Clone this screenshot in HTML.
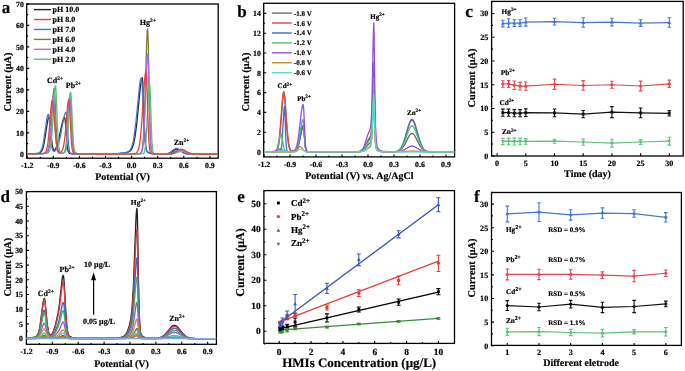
<!DOCTYPE html>
<html><head><meta charset="utf-8"><style>
html,body{margin:0;padding:0;background:#fff;}
svg{display:block;will-change:transform;}
text{font-family:"Liberation Serif",serif;font-weight:bold;fill:#000;text-rendering:geometricPrecision;font-variant-ligatures:none;font-kerning:none;stroke:#000;stroke-width:0.18px;}
</style></head><body>
<svg width="685" height="371" viewBox="0 0 685 371">
<rect width="685" height="371" fill="#fff"/>
<rect x="26.7" y="4" width="191.5" height="154.2" fill="none" stroke="#000" stroke-width="1.3"/>
<path d="M27.2 158.2v-2.5M53.3 158.2v-2.5M79.4 158.2v-2.5M105.5 158.2v-2.5M131.6 158.2v-2.5M157.7 158.2v-2.5M183.8 158.2v-2.5M209.9 158.2v-2.5M40.25 158.2v-1.4M66.35 158.2v-1.4M92.45 158.2v-1.4M118.55 158.2v-1.4M144.65 158.2v-1.4M170.75 158.2v-1.4M196.85 158.2v-1.4M26.7 154.4h2.5M26.7 132.9h2.5M26.7 111.4h2.5M26.7 89.9h2.5M26.7 68.4h2.5M26.7 46.9h2.5M26.7 25.4h2.5M26.7 3.9h2.5M26.7 143.65h1.4M26.7 122.15h1.4M26.7 100.65h1.4M26.7 79.15h1.4M26.7 57.65h1.4M26.7 36.15h1.4M26.7 14.65h1.4" stroke="#000" stroke-width="1.1" fill="none"/>
<text x="27.2" y="168.1" font-size="7.8" text-anchor="middle">-1.2</text>
<text x="53.3" y="168.1" font-size="7.8" text-anchor="middle">-0.9</text>
<text x="79.4" y="168.1" font-size="7.8" text-anchor="middle">-0.6</text>
<text x="105.5" y="168.1" font-size="7.8" text-anchor="middle">-0.3</text>
<text x="131.6" y="168.1" font-size="7.8" text-anchor="middle">0.0</text>
<text x="157.7" y="168.1" font-size="7.8" text-anchor="middle">0.3</text>
<text x="183.8" y="168.1" font-size="7.8" text-anchor="middle">0.6</text>
<text x="209.9" y="168.1" font-size="7.8" text-anchor="middle">0.9</text>
<text x="23.8" y="157.1" font-size="7.8" text-anchor="end">0</text>
<text x="23.8" y="135.6" font-size="7.8" text-anchor="end">10</text>
<text x="23.8" y="114.1" font-size="7.8" text-anchor="end">20</text>
<text x="23.8" y="92.6" font-size="7.8" text-anchor="end">30</text>
<text x="23.8" y="71.1" font-size="7.8" text-anchor="end">40</text>
<text x="23.8" y="49.6" font-size="7.8" text-anchor="end">50</text>
<text x="23.8" y="28.1" font-size="7.8" text-anchor="end">60</text>
<text x="23.8" y="6.6" font-size="7.8" text-anchor="end">70</text>
<text x="122.5" y="179.5" font-size="10" text-anchor="middle">Potential (V)</text>
<text transform="translate(10.8 82) rotate(-90)" x="0" y="0" font-size="10.3" text-anchor="middle">Current (μA)</text>
<text x="1.7" y="12.7" font-size="17" text-anchor="start">a</text>
<path d="M27.0,153.9 34.8,153.7 38.5,153.3 39.5,152.9 40.5,152.3 41.8,150.8 42.8,148.4 43.8,144.6 45.0,137.8 47.5,121.4 48.3,118.2 48.8,117.2 49.0,117.0 49.3,117.3 49.8,120.1 51.5,139.2 52.3,145.4 53.0,148.8 53.5,149.8 54.0,150.2 54.8,150.0 55.5,149.0 56.5,147.0 57.3,144.9 59.0,138.2 62.5,121.8 63.5,118.7 64.0,117.8 64.5,117.5 64.8,117.7 65.3,121.0 66.8,141.0 67.5,148.0 68.3,151.5 68.8,152.6 69.5,153.3 70.5,153.6 72.3,153.8 79.2,154.0 98.5,153.9 113.2,153.7 120.0,153.3 124.7,152.9 127.7,152.2 129.7,151.3 130.7,150.4 131.4,149.4 132.7,146.9 133.9,142.5 134.9,137.4 136.7,124.0 140.4,85.9 141.4,79.5 142.2,77.7 142.4,78.0 142.9,84.8 144.4,126.1 145.2,140.4 145.7,145.9 146.2,149.1 146.7,150.8 147.4,152.0 148.2,152.6 149.2,153.0 152.7,153.6 160.2,154.0 166.7,153.9 168.4,153.6 170.2,153.0 171.6,152.2 175.4,149.7 176.4,149.3 177.4,149.2 178.4,149.4 179.4,149.8 182.9,152.2 184.4,153.0 185.9,153.6 187.6,153.9 192.6,154.1 217.9,154.2" stroke="#222" stroke-width="1.3" fill="none" stroke-linejoin="round"/>
<path d="M27.0,153.9 34.3,153.6 37.8,153.2 38.8,152.9 39.8,152.2 41.0,150.6 42.3,147.3 43.3,143.0 46.8,119.3 47.5,115.7 48.0,114.5 48.3,114.3 48.5,114.5 49.0,117.2 51.0,140.5 52.0,147.8 52.5,149.8 53.3,151.1 53.8,151.4 54.3,151.4 55.5,150.5 56.5,149.0 57.3,147.5 58.8,143.0 60.3,136.5 64.0,117.0 65.0,113.6 65.5,112.6 66.0,112.1 66.3,112.2 66.5,113.5 66.8,116.1 68.0,137.5 68.8,146.9 69.5,151.3 70.0,152.6 70.5,153.1 71.3,153.5 72.8,153.7 78.7,153.9 96.5,153.9 111.5,153.7 118.5,153.4 123.4,152.9 126.7,152.3 128.7,151.3 129.7,150.5 130.4,149.5 131.7,147.0 132.9,142.8 133.9,137.7 135.9,122.3 139.4,86.7 140.4,80.1 141.2,78.1 141.4,78.2 141.7,79.4 142.2,86.1 143.9,124.8 144.9,140.3 145.9,148.0 146.7,150.6 147.4,151.8 148.2,152.4 149.4,152.9 152.9,153.5 160.4,153.9 165.9,153.7 167.7,153.4 169.4,152.7 170.9,151.7 174.4,149.0 175.4,148.5 176.4,148.3 177.4,148.5 178.4,149.0 181.9,151.8 183.4,152.8 185.1,153.5 186.9,153.9 192.1,154.1 217.9,154.2" stroke="#4a78d0" stroke-width="1.3" fill="none" stroke-linejoin="round"/>
<path d="M27.0,154.1 38.8,153.9 44.8,153.4 46.0,153.1 47.0,152.6 47.8,151.8 48.3,150.8 49.3,147.0 50.3,139.1 51.0,129.6 53.3,93.7 53.8,89.4 54.0,88.4 54.3,88.4 54.8,93.7 56.3,129.5 57.0,142.5 57.5,147.5 58.0,150.3 58.5,151.8 59.3,152.7 60.3,153.0 62.0,153.1 63.3,153.0 64.3,152.5 64.8,151.9 65.3,150.8 66.0,147.6 67.0,138.4 69.3,100.4 69.8,95.3 70.0,94.4 70.3,94.7 70.8,100.3 72.3,133.1 73.0,144.4 73.8,150.1 74.2,151.8 75.0,152.9 76.7,153.5 80.5,153.9 99.5,154.1 133.7,154.0 138.9,153.7 139.9,153.5 140.7,153.0 141.2,152.4 141.7,151.3 142.4,147.8 143.2,140.7 143.7,132.8 144.7,107.9 146.7,41.1 147.2,31.6 147.4,29.3 147.7,29.0 148.2,39.8 149.4,104.5 150.2,133.9 150.9,147.7 151.4,151.3 151.9,152.8 152.4,153.4 152.9,153.6 155.2,153.9 163.7,154.1 169.2,153.9 172.6,153.2 178.1,150.6 180.4,150.1 182.6,150.6 187.9,153.2 191.4,153.9 196.4,154.1 217.9,154.2" stroke="#7d7d3c" stroke-width="1.3" fill="none" stroke-linejoin="round"/>
<path d="M27.0,154.1 38.3,153.9 44.0,153.5 45.3,153.2 46.3,152.8 47.0,152.1 47.5,151.3 48.5,148.0 49.5,141.1 50.5,129.4 52.5,100.2 53.0,96.0 53.3,95.0 53.5,94.7 53.8,95.9 54.3,103.0 55.5,130.9 56.3,143.0 56.8,147.8 57.3,150.5 57.8,151.9 58.5,152.8 59.3,153.1 60.8,153.2 62.5,153.1 63.5,152.9 64.3,152.3 64.8,151.5 65.5,149.1 66.3,144.1 66.8,138.9 69.0,102.2 69.5,97.4 69.8,96.5 70.0,96.9 70.5,102.4 72.0,134.1 72.8,144.9 73.5,150.3 74.0,151.9 74.7,153.0 76.2,153.5 79.5,153.9 94.7,154.1 133.7,154.0 139.2,153.8 140.2,153.6 140.9,153.2 141.4,152.7 141.9,151.7 142.7,148.7 143.4,142.5 143.9,135.9 144.9,115.2 146.7,67.2 147.2,57.9 147.7,53.7 147.9,54.1 148.4,64.8 149.7,117.3 150.4,139.5 151.2,149.6 151.7,152.1 152.2,153.2 153.2,153.7 155.9,154.0 164.7,154.1 169.4,153.9 172.6,153.3 178.1,150.8 180.4,150.3 182.6,150.8 187.9,153.2 191.4,153.9 196.4,154.1 217.9,154.2" stroke="#a56ee8" stroke-width="1.3" fill="none" stroke-linejoin="round"/>
<path d="M27.0,154.1 39.5,153.9 45.8,153.4 47.3,153.1 48.3,152.6 49.0,151.8 49.5,150.9 50.5,147.1 51.5,139.1 52.5,125.6 54.5,92.0 55.0,87.2 55.3,86.0 55.5,85.7 55.8,87.0 56.3,95.2 57.5,127.3 58.3,141.3 58.8,146.8 59.3,149.9 59.8,151.5 60.5,152.5 61.5,152.9 62.8,153.0 64.0,152.8 64.8,152.5 65.3,152.0 65.8,151.0 66.5,147.9 67.5,138.6 69.8,98.0 70.3,92.9 70.5,92.1 70.8,92.8 71.3,98.9 72.8,131.5 73.5,143.2 74.0,147.8 74.5,150.5 75.0,151.9 75.7,152.9 77.0,153.4 79.5,153.8 90.0,154.1 134.4,154.1 141.2,153.9 143.2,153.6 143.7,153.2 144.2,152.5 144.9,150.0 145.9,141.9 146.9,125.4 148.4,92.3 148.9,84.9 149.4,82.1 149.7,83.3 150.2,92.5 151.9,141.2 152.7,149.9 153.2,152.3 153.7,153.3 154.7,153.8 156.9,154.0 171.4,154.0 174.9,153.4 180.4,151.5 182.6,151.2 184.6,151.5 190.1,153.5 193.4,154.0 217.9,154.2" stroke="#5cc07a" stroke-width="1.3" fill="none" stroke-linejoin="round"/>
<path d="M27.0,154.0 37.0,153.8 42.5,153.5 43.8,153.2 44.8,152.8 45.5,152.1 46.0,151.3 47.0,148.3 48.0,142.4 49.0,132.7 51.0,107.5 51.8,101.6 52.0,100.7 52.3,100.4 52.8,101.9 53.3,105.9 55.5,135.3 56.8,146.0 57.8,150.1 58.8,151.8 59.5,152.2 60.3,152.3 61.0,152.1 61.8,151.5 62.5,150.2 63.0,148.7 64.3,142.2 65.3,133.2 67.5,106.5 68.3,100.8 68.8,99.6 69.0,100.2 69.5,105.9 71.5,143.1 72.0,147.9 72.5,150.6 73.0,152.1 73.8,153.0 75.7,153.6 80.5,153.9 106.5,154.1 131.9,153.9 134.9,153.6 136.4,153.0 137.7,151.4 138.7,148.6 139.4,145.0 140.2,139.7 141.7,123.1 144.4,81.8 145.2,74.4 145.7,71.8 145.9,71.2 146.2,71.5 146.7,78.6 148.2,124.6 148.9,141.3 149.7,149.5 150.2,151.9 150.9,153.4 152.2,153.8 155.7,154.0 166.4,154.1 170.7,153.9 172.4,153.5 173.9,153.0 179.1,149.8 180.4,149.3 181.4,149.2 182.4,149.4 183.6,149.9 189.1,153.0 192.4,153.8 197.4,154.1 217.9,154.2" stroke="#e8413c" stroke-width="1.3" fill="none" stroke-linejoin="round"/>
<path d="M34 9.6H51" stroke="#222" stroke-width="1.4"/>
<text x="52.6" y="12.4" font-size="8" text-anchor="start">pH 10.0</text>
<path d="M34 19.53H51" stroke="#e8413c" stroke-width="1.4"/>
<text x="52.6" y="22.33" font-size="8" text-anchor="start">pH 8.0</text>
<path d="M34 29.46H51" stroke="#4a78d0" stroke-width="1.4"/>
<text x="52.6" y="32.26" font-size="8" text-anchor="start">pH 7.0</text>
<path d="M34 39.39H51" stroke="#7d7d3c" stroke-width="1.4"/>
<text x="52.6" y="42.19" font-size="8" text-anchor="start">pH 6.0</text>
<path d="M34 49.32H51" stroke="#a56ee8" stroke-width="1.4"/>
<text x="52.6" y="52.12" font-size="8" text-anchor="start">pH 4.0</text>
<path d="M34 59.25H51" stroke="#5cc07a" stroke-width="1.4"/>
<text x="52.6" y="62.05" font-size="8" text-anchor="start">pH 2.0</text>
<text x="47" y="82.6" font-size="8" text-anchor="start">Cd<tspan font-size="5.44" dy="-2.88">2+</tspan></text>
<text x="65.8" y="88.2" font-size="8" text-anchor="start">Pb<tspan font-size="5.44" dy="-2.88">2+</tspan></text>
<text x="139.7" y="24.9" font-size="8" text-anchor="start">Hg<tspan font-size="5.44" dy="-2.88">2+</tspan></text>
<text x="173.7" y="144.6" font-size="8" text-anchor="start">Zn<tspan font-size="5.44" dy="-2.88">2+</tspan></text>
<rect x="263.7" y="3.3" width="190.9" height="153.6" fill="none" stroke="#000" stroke-width="1.3"/>
<path d="M264.08 156.9v-2.5M290.06 156.9v-2.5M316.04 156.9v-2.5M342.02 156.9v-2.5M368 156.9v-2.5M393.98 156.9v-2.5M419.96 156.9v-2.5M445.94 156.9v-2.5M277.07 156.9v-1.4M303.05 156.9v-1.4M329.03 156.9v-1.4M355.01 156.9v-1.4M380.99 156.9v-1.4M406.97 156.9v-1.4M432.95 156.9v-1.4M263.7 152h2.5M263.7 132.2h2.5M263.7 112.4h2.5M263.7 92.6h2.5M263.7 72.8h2.5M263.7 53h2.5M263.7 33.2h2.5M263.7 13.4h2.5M263.7 142.1h1.4M263.7 122.3h1.4M263.7 102.5h1.4M263.7 82.7h1.4M263.7 62.9h1.4M263.7 43.1h1.4M263.7 23.3h1.4M263.7 3.5h1.4" stroke="#000" stroke-width="1.1" fill="none"/>
<text x="264.08" y="166.8" font-size="7.8" text-anchor="middle">-1.2</text>
<text x="290.06" y="166.8" font-size="7.8" text-anchor="middle">-0.9</text>
<text x="316.04" y="166.8" font-size="7.8" text-anchor="middle">-0.6</text>
<text x="342.02" y="166.8" font-size="7.8" text-anchor="middle">-0.3</text>
<text x="368" y="166.8" font-size="7.8" text-anchor="middle">0.0</text>
<text x="393.98" y="166.8" font-size="7.8" text-anchor="middle">0.3</text>
<text x="419.96" y="166.8" font-size="7.8" text-anchor="middle">0.6</text>
<text x="445.94" y="166.8" font-size="7.8" text-anchor="middle">0.9</text>
<text x="260.8" y="154.7" font-size="7.8" text-anchor="end">0</text>
<text x="260.8" y="134.9" font-size="7.8" text-anchor="end">2</text>
<text x="260.8" y="115.1" font-size="7.8" text-anchor="end">4</text>
<text x="260.8" y="95.3" font-size="7.8" text-anchor="end">6</text>
<text x="260.8" y="75.5" font-size="7.8" text-anchor="end">8</text>
<text x="260.8" y="55.7" font-size="7.8" text-anchor="end">10</text>
<text x="260.8" y="35.9" font-size="7.8" text-anchor="end">12</text>
<text x="260.8" y="16.1" font-size="7.8" text-anchor="end">14</text>
<text x="359.4" y="179.2" font-size="10" text-anchor="middle">Potential (V) vs. Ag/AgCl</text>
<text transform="translate(249.2 82) rotate(-90)" x="0" y="0" font-size="10.3" text-anchor="middle">Current (μA)</text>
<text x="237.2" y="16.7" font-size="17" text-anchor="start">b</text>
<path d="M264.0,151.9 271.5,151.7 275.0,151.3 276.0,150.9 276.8,150.3 277.8,148.5 278.8,144.5 279.8,137.1 282.8,99.4 283.5,93.9 283.8,93.2 284.0,93.1 284.5,95.1 285.0,100.0 287.0,129.8 288.3,142.9 288.8,145.9 289.5,148.8 290.3,150.2 291.5,151.0 293.3,151.2 295.0,150.9 296.3,149.9 297.3,148.3 298.3,145.6 299.0,142.7 302.0,128.4 302.8,126.5 303.3,126.2 303.8,128.7 305.0,143.6 305.5,147.8 306.3,150.7 307.0,151.5 309.0,151.8 315.3,151.9 355.3,151.9 360.3,151.6 361.5,151.3 362.8,150.7 364.5,149.2 368.0,144.7 370.3,142.6 371.0,140.9 371.5,137.8 372.0,131.8 373.3,103.7 373.8,97.8 374.0,100.5 375.0,133.3 375.5,142.8 376.3,148.1 377.0,149.7 378.0,150.7 379.5,151.3 381.8,151.6 391.0,151.9 396.3,151.7 398.0,151.4 399.5,150.8 401.5,149.3 403.5,146.7 405.0,144.1 408.3,137.4 409.8,134.9 411.0,133.7 412.0,133.4 413.3,133.9 414.8,135.8 419.3,144.7 421.3,147.9 423.0,149.8 425.0,151.1 427.3,151.7 430.3,151.9 454.3,152.0" stroke="#6b6b6b" stroke-width="1.3" fill="none" stroke-linejoin="round"/>
<path d="M264.0,151.8 271.8,151.6 274.8,151.2 275.5,150.8 276.3,150.2 277.0,148.9 277.5,147.6 278.5,143.0 279.3,137.5 280.3,126.9 282.5,98.2 283.3,92.6 283.8,91.5 284.3,92.9 285.0,99.4 287.0,127.5 288.3,140.7 288.8,144.1 289.5,147.6 290.3,149.5 291.3,150.6 292.0,151.0 293.0,151.1 295.0,150.8 296.3,149.9 297.3,148.3 298.3,145.7 299.0,142.8 302.0,128.8 302.8,127.0 303.3,126.6 303.8,129.1 305.0,143.8 305.5,147.8 306.3,150.7 307.0,151.5 309.3,151.8 316.0,151.9 354.8,151.8 359.8,151.5 361.0,151.1 362.3,150.3 363.3,149.3 364.3,147.8 367.8,140.3 370.3,136.5 371.0,133.6 371.5,128.5 372.0,118.5 373.3,72.1 373.8,62.3 374.0,66.8 375.0,121.1 375.5,136.8 376.3,145.6 377.0,148.3 378.0,149.8 379.5,150.8 381.8,151.4 385.5,151.7 391.3,151.9 394.5,151.8 396.5,151.5 398.0,150.9 399.5,149.9 400.5,148.8 401.5,147.4 403.5,143.0 405.0,138.5 408.3,127.1 409.8,122.9 411.0,120.8 411.5,120.4 412.0,120.3 412.5,120.5 413.3,121.2 414.8,124.4 419.3,139.6 421.3,145.1 423.0,148.3 424.0,149.5 425.0,150.4 427.3,151.5 430.3,151.9 454.3,152.0" stroke="#e04848" stroke-width="1.3" fill="none" stroke-linejoin="round"/>
<path d="M264.0,151.9 278.3,151.7 280.0,151.3 280.8,150.5 281.5,147.6 282.0,143.3 283.8,112.3 284.3,106.8 284.5,106.5 284.8,109.4 285.8,137.0 286.3,146.0 286.8,149.9 287.0,150.7 287.5,151.3 288.5,151.6 290.3,151.7 294.0,151.5 295.5,150.8 296.8,149.3 297.8,147.1 298.8,143.6 302.0,127.6 302.8,125.6 303.3,125.2 303.8,127.9 305.0,143.4 305.5,147.7 306.3,150.7 307.0,151.5 309.0,151.8 315.0,151.9 354.8,151.8 359.8,151.5 361.0,151.2 362.3,150.5 363.3,149.5 364.3,148.2 367.8,141.4 370.3,137.9 371.0,135.2 371.5,130.6 372.0,121.5 373.3,79.1 373.8,70.2 374.0,74.3 375.0,123.8 375.5,138.1 376.3,146.1 377.0,148.6 378.0,150.0 379.5,150.9 381.8,151.5 385.8,151.8 392.0,151.9 394.8,151.7 396.5,151.5 398.0,150.9 399.5,149.8 400.5,148.7 401.5,147.2 403.5,142.7 405.0,138.1 408.3,126.4 409.8,122.0 411.0,119.8 411.5,119.4 412.0,119.3 412.5,119.5 413.3,120.3 414.8,123.5 419.3,139.2 421.3,144.9 423.0,148.2 424.0,149.5 425.0,150.4 427.3,151.5 430.3,151.9 454.3,152.0" stroke="#3f6fc8" stroke-width="1.3" fill="none" stroke-linejoin="round"/>
<path d="M264.0,151.9 274.5,151.8 275.8,151.5 276.5,151.0 277.3,149.8 278.0,147.3 280.0,135.7 280.5,133.9 280.8,133.5 281.0,133.6 281.5,135.0 283.8,147.7 284.3,149.4 285.0,150.8 285.8,151.4 286.5,151.6 290.5,151.7 293.5,151.4 294.5,151.1 295.3,150.5 296.5,148.8 297.8,145.1 299.0,139.0 301.5,123.5 302.3,120.5 302.8,119.6 303.0,119.5 303.5,122.8 304.8,141.6 305.3,146.8 306.0,150.4 306.8,151.4 308.5,151.8 314.0,151.9 353.8,151.8 359.5,151.6 361.0,151.3 362.3,150.6 363.3,149.8 364.3,148.5 367.8,142.4 370.3,139.2 371.0,136.8 371.5,132.6 372.0,124.4 373.3,86.1 373.8,78.1 374.0,81.8 375.0,126.5 375.5,139.5 376.3,146.7 377.0,148.9 378.0,150.2 379.5,151.0 381.8,151.5 391.3,151.9 394.5,151.8 396.5,151.6 398.0,151.1 399.5,150.3 401.5,148.2 403.5,144.6 405.0,140.8 408.3,131.4 409.8,127.9 411.0,126.2 412.0,125.7 412.5,125.9 413.3,126.5 414.8,129.1 419.3,141.7 421.3,146.3 423.0,148.9 425.0,150.7 427.3,151.6 430.3,151.9 454.3,152.0" stroke="#4cc070" stroke-width="1.3" fill="none" stroke-linejoin="round"/>
<path d="M264.0,151.9 272.8,151.9 275.0,151.7 276.5,151.2 279.3,149.2 280.3,148.9 281.3,149.2 284.0,151.1 286.3,151.7 289.8,151.6 292.5,151.4 294.0,150.8 295.0,149.9 295.8,148.7 296.5,146.8 297.8,141.4 299.0,132.8 301.5,111.0 302.3,106.5 303.0,104.5 303.3,104.7 303.8,110.7 304.8,133.4 305.5,145.2 306.3,150.0 307.0,151.3 307.8,151.6 309.0,151.7 315.0,151.9 339.5,151.9 354.3,151.7 357.8,151.5 359.8,151.2 361.0,150.6 362.3,149.5 363.3,148.0 364.3,145.8 367.8,134.8 370.0,129.4 370.5,127.3 371.0,123.1 371.5,114.5 372.0,99.1 373.3,35.2 373.8,22.9 374.0,28.5 375.0,101.0 375.5,125.4 376.3,140.9 377.0,145.7 378.0,148.3 378.8,149.4 379.8,150.2 381.0,150.8 382.8,151.2 389.0,151.7 397.5,151.7 400.0,151.4 402.3,150.8 404.5,149.7 409.5,146.6 411.0,146.1 412.3,146.0 413.5,146.3 414.8,146.8 421.0,150.6 423.0,151.3 425.0,151.7 430.3,152.0 454.3,152.0" stroke="#9450e6" stroke-width="1.3" fill="none" stroke-linejoin="round"/>
<path d="M264.0,152.0 289.8,152.0 294.0,151.8 295.3,151.5 296.3,150.8 299.0,147.3 299.8,146.6 300.3,146.6 301.3,147.2 303.3,150.0 304.3,151.0 305.5,151.6 307.0,151.9 357.0,151.9 361.5,151.6 364.3,150.8 366.3,149.7 369.8,147.3 370.5,146.3 371.0,144.8 371.5,141.6 372.0,135.8 373.3,109.4 373.8,103.7 374.0,106.1 375.0,135.5 375.5,144.0 376.3,148.7 376.8,149.7 377.8,150.7 379.0,151.2 380.8,151.6 387.3,151.9 400.5,151.9 412.0,151.0 425.0,151.9 454.3,152.0" stroke="#c8902c" stroke-width="1.3" fill="none" stroke-linejoin="round"/>
<path d="M264.0,152.0 276.5,151.9 278.3,151.6 281.0,150.6 282.0,150.5 283.0,150.7 285.5,151.6 287.0,151.9 294.8,151.9 297.0,151.3 299.8,149.4 300.8,149.0 301.8,149.3 305.0,151.5 306.3,151.8 308.0,151.9 357.0,151.8 361.3,151.5 363.8,150.7 365.5,149.5 369.8,145.9 370.5,144.7 371.0,143.0 371.5,139.4 372.0,132.5 373.3,101.5 373.8,94.9 374.0,97.7 375.0,132.5 375.5,142.5 376.3,148.0 376.8,149.3 377.8,150.5 379.0,151.1 380.8,151.5 387.3,151.9 454.3,152.0" stroke="#56dccb" stroke-width="1.3" fill="none" stroke-linejoin="round"/>
<path d="M272 13.1H291.8" stroke="#6b6b6b" stroke-width="1.4"/>
<text x="293.9" y="15.6" font-size="7" text-anchor="start">-1.8 V</text>
<path d="M272 23.03H291.8" stroke="#e04848" stroke-width="1.4"/>
<text x="293.9" y="25.53" font-size="7" text-anchor="start">-1.6 V</text>
<path d="M272 32.96H291.8" stroke="#3f6fc8" stroke-width="1.4"/>
<text x="293.9" y="35.46" font-size="7" text-anchor="start">-1.4 V</text>
<path d="M272 42.89H291.8" stroke="#4cc070" stroke-width="1.4"/>
<text x="293.9" y="45.39" font-size="7" text-anchor="start">-1.2 V</text>
<path d="M272 52.82H291.8" stroke="#9450e6" stroke-width="1.4"/>
<text x="293.9" y="55.32" font-size="7" text-anchor="start">-1.0 V</text>
<path d="M272 62.75H291.8" stroke="#c8902c" stroke-width="1.4"/>
<text x="293.9" y="65.25" font-size="7" text-anchor="start">-0.8 V</text>
<path d="M272 72.68H291.8" stroke="#56dccb" stroke-width="1.4"/>
<text x="293.9" y="75.18" font-size="7" text-anchor="start">-0.6 V</text>
<text x="277.6" y="88.4" font-size="7" text-anchor="start">Cd<tspan font-size="5.2" dy="-2.9">2+</tspan></text>
<text x="297.2" y="100.8" font-size="7" text-anchor="start">Pb<tspan font-size="5.2" dy="-2.9">2+</tspan></text>
<text x="370.2" y="18.6" font-size="7" text-anchor="start">Hg<tspan font-size="5.2" dy="-2.9">2+</tspan></text>
<text x="407" y="114.5" font-size="7" text-anchor="start">Zn<tspan font-size="5.2" dy="-2.9">2+</tspan></text>
<rect x="491.6" y="1.4" width="191.6" height="154.6" fill="none" stroke="#000" stroke-width="1.3"/>
<path d="M497.1 156v-2.8M525.8 156v-2.8M554.5 156v-2.8M583.2 156v-2.8M611.9 156v-2.8M640.6 156v-2.8M669.3 156v-2.8M491.6 155.9h2.8M491.6 132.18h2.8M491.6 108.45h2.8M491.6 84.73h2.8M491.6 61h2.8M491.6 37.28h2.8M491.6 13.55h2.8M491.6 144.04h1.4M491.6 120.31h1.4M491.6 96.59h1.4M491.6 72.86h1.4M491.6 49.14h1.4M491.6 25.41h1.4M491.6 1.69h1.4" stroke="#000" stroke-width="1.1" fill="none"/>
<text x="497.1" y="165.8" font-size="8.1" text-anchor="middle">0</text>
<text x="525.8" y="165.8" font-size="8.1" text-anchor="middle">5</text>
<text x="554.5" y="165.8" font-size="8.1" text-anchor="middle">10</text>
<text x="583.2" y="165.8" font-size="8.1" text-anchor="middle">15</text>
<text x="611.9" y="165.8" font-size="8.1" text-anchor="middle">20</text>
<text x="640.6" y="165.8" font-size="8.1" text-anchor="middle">25</text>
<text x="669.3" y="165.8" font-size="8.1" text-anchor="middle">30</text>
<text x="488.3" y="158.7" font-size="8.1" text-anchor="end">0</text>
<text x="488.3" y="134.98" font-size="8.1" text-anchor="end">5</text>
<text x="488.3" y="111.25" font-size="8.1" text-anchor="end">10</text>
<text x="488.3" y="87.53" font-size="8.1" text-anchor="end">15</text>
<text x="488.3" y="63.8" font-size="8.1" text-anchor="end">20</text>
<text x="488.3" y="40.08" font-size="8.1" text-anchor="end">25</text>
<text x="488.3" y="16.35" font-size="8.1" text-anchor="end">30</text>
<text x="587.5" y="176.6" font-size="10" text-anchor="middle">Time (day)</text>
<text transform="translate(474.8 78) rotate(-90)" x="0" y="0" font-size="10.3" text-anchor="middle">Current (μA)</text>
<text x="465.3" y="16.8" font-size="17.5" text-anchor="start">c</text>
<path d="M502.84,23.51 508.58,23.04 514.32,23.04 520.06,23.04 525.80,22.09 554.50,21.62 583.20,22.57 611.90,22.09 640.60,23.04 669.30,22.57" stroke="#4a78c8" stroke-width="1.2" fill="none"/>
<path d="M502.84 20.19V26.84M501.04 20.19h3.6M501.04 26.84h3.6" stroke="#4a78c8" stroke-width="1.1" fill="none"/>
<path d="M502.84 21.44L504.82 24.86H500.86Z" fill="#4a78c8"/>
<path d="M508.58 18.77V27.31M506.78 18.77h3.6M506.78 27.31h3.6" stroke="#4a78c8" stroke-width="1.1" fill="none"/>
<path d="M508.58 20.97L510.56 24.39H506.6Z" fill="#4a78c8"/>
<path d="M514.32 19.72V26.36M512.52 19.72h3.6M512.52 26.36h3.6" stroke="#4a78c8" stroke-width="1.1" fill="none"/>
<path d="M514.32 20.97L516.3 24.39H512.34Z" fill="#4a78c8"/>
<path d="M520.06 19.72V26.36M518.26 19.72h3.6M518.26 26.36h3.6" stroke="#4a78c8" stroke-width="1.1" fill="none"/>
<path d="M520.06 20.97L522.04 24.39H518.08Z" fill="#4a78c8"/>
<path d="M525.8 18.06V26.12M524 18.06h3.6M524 26.12h3.6" stroke="#4a78c8" stroke-width="1.1" fill="none"/>
<path d="M525.8 20.02L527.78 23.44H523.82Z" fill="#4a78c8"/>
<path d="M554.5 18.3V24.94M552.7 18.3h3.6M552.7 24.94h3.6" stroke="#4a78c8" stroke-width="1.1" fill="none"/>
<path d="M554.5 19.55L556.48 22.97H552.52Z" fill="#4a78c8"/>
<path d="M583.2 17.82V27.31M581.4 17.82h3.6M581.4 27.31h3.6" stroke="#4a78c8" stroke-width="1.1" fill="none"/>
<path d="M583.2 20.5L585.18 23.92H581.22Z" fill="#4a78c8"/>
<path d="M611.9 18.3V25.89M610.1 18.3h3.6M610.1 25.89h3.6" stroke="#4a78c8" stroke-width="1.1" fill="none"/>
<path d="M611.9 20.02L613.88 23.44H609.92Z" fill="#4a78c8"/>
<path d="M640.6 19.72V26.36M638.8 19.72h3.6M638.8 26.36h3.6" stroke="#4a78c8" stroke-width="1.1" fill="none"/>
<path d="M640.6 20.97L642.58 24.39H638.62Z" fill="#4a78c8"/>
<path d="M669.3 17.82V27.31M667.5 17.82h3.6M667.5 27.31h3.6" stroke="#4a78c8" stroke-width="1.1" fill="none"/>
<path d="M669.3 20.5L671.28 23.92H667.32Z" fill="#4a78c8"/>
<path d="M502.84,84.01 508.58,84.01 514.32,85.20 520.06,86.15 525.80,86.15 554.50,84.25 583.20,85.48 611.90,84.73 640.60,86.01 669.30,83.78" stroke="#e04a4f" stroke-width="1.2" fill="none"/>
<path d="M502.84 80.79V87.24M501.04 80.79h3.6M501.04 87.24h3.6" stroke="#e04a4f" stroke-width="1.1" fill="none"/>
<circle cx="502.84" cy="84.01" r="1.6" fill="#e04a4f"/>
<path d="M508.58 80.6V87.43M506.78 80.6h3.6M506.78 87.43h3.6" stroke="#e04a4f" stroke-width="1.1" fill="none"/>
<circle cx="508.58" cy="84.01" r="1.6" fill="#e04a4f"/>
<path d="M514.32 80.93V89.47M512.52 80.93h3.6M512.52 89.47h3.6" stroke="#e04a4f" stroke-width="1.1" fill="none"/>
<circle cx="514.32" cy="85.2" r="1.6" fill="#e04a4f"/>
<path d="M520.06 82.35V89.94M518.26 82.35h3.6M518.26 89.94h3.6" stroke="#e04a4f" stroke-width="1.1" fill="none"/>
<circle cx="520.06" cy="86.15" r="1.6" fill="#e04a4f"/>
<path d="M525.8 82.07V90.23M524 82.07h3.6M524 90.23h3.6" stroke="#e04a4f" stroke-width="1.1" fill="none"/>
<circle cx="525.8" cy="86.15" r="1.6" fill="#e04a4f"/>
<path d="M554.5 79.17V89.33M552.7 79.17h3.6M552.7 89.33h3.6" stroke="#e04a4f" stroke-width="1.1" fill="none"/>
<circle cx="554.5" cy="84.25" r="1.6" fill="#e04a4f"/>
<path d="M583.2 80.64V90.32M581.4 80.64h3.6M581.4 90.32h3.6" stroke="#e04a4f" stroke-width="1.1" fill="none"/>
<circle cx="583.2" cy="85.48" r="1.6" fill="#e04a4f"/>
<path d="M611.9 81.21V88.24M610.1 81.21h3.6M610.1 88.24h3.6" stroke="#e04a4f" stroke-width="1.1" fill="none"/>
<circle cx="611.9" cy="84.73" r="1.6" fill="#e04a4f"/>
<path d="M640.6 81.17V90.85M638.8 81.17h3.6M638.8 90.85h3.6" stroke="#e04a4f" stroke-width="1.1" fill="none"/>
<circle cx="640.6" cy="86.01" r="1.6" fill="#e04a4f"/>
<path d="M669.3 80.17V87.38M667.5 80.17h3.6M667.5 87.38h3.6" stroke="#e04a4f" stroke-width="1.1" fill="none"/>
<circle cx="669.3" cy="83.78" r="1.6" fill="#e04a4f"/>
<path d="M502.84,112.72 508.58,112.72 514.32,113.20 520.06,113.20 525.80,112.72 554.50,112.91 583.20,114.10 611.90,112.10 640.60,112.91 669.30,113.29" stroke="#111" stroke-width="1.2" fill="none"/>
<path d="M502.84 109.16V116.28M501.04 109.16h3.6M501.04 116.28h3.6" stroke="#111" stroke-width="1.1" fill="none"/>
<rect x="501.4" y="111.28" width="2.89" height="2.89" fill="#111"/>
<path d="M508.58 109.16V116.28M506.78 109.16h3.6M506.78 116.28h3.6" stroke="#111" stroke-width="1.1" fill="none"/>
<rect x="507.14" y="111.28" width="2.89" height="2.89" fill="#111"/>
<path d="M514.32 109.64V116.75M512.52 109.64h3.6M512.52 116.75h3.6" stroke="#111" stroke-width="1.1" fill="none"/>
<rect x="512.88" y="111.75" width="2.89" height="2.89" fill="#111"/>
<path d="M520.06 109.64V116.75M518.26 109.64h3.6M518.26 116.75h3.6" stroke="#111" stroke-width="1.1" fill="none"/>
<rect x="518.62" y="111.75" width="2.89" height="2.89" fill="#111"/>
<path d="M525.8 108.92V116.52M524 108.92h3.6M524 116.52h3.6" stroke="#111" stroke-width="1.1" fill="none"/>
<rect x="524.36" y="111.28" width="2.89" height="2.89" fill="#111"/>
<path d="M554.5 109.02V116.8M552.7 109.02h3.6M552.7 116.8h3.6" stroke="#111" stroke-width="1.1" fill="none"/>
<rect x="553.05" y="111.47" width="2.89" height="2.89" fill="#111"/>
<path d="M583.2 110.49V117.7M581.4 110.49h3.6M581.4 117.7h3.6" stroke="#111" stroke-width="1.1" fill="none"/>
<rect x="581.75" y="112.65" width="2.89" height="2.89" fill="#111"/>
<path d="M611.9 106.6V117.61M610.1 106.6h3.6M610.1 117.61h3.6" stroke="#111" stroke-width="1.1" fill="none"/>
<rect x="610.46" y="110.66" width="2.89" height="2.89" fill="#111"/>
<path d="M640.6 108.07V117.75M638.8 108.07h3.6M638.8 117.75h3.6" stroke="#111" stroke-width="1.1" fill="none"/>
<rect x="639.15" y="111.47" width="2.89" height="2.89" fill="#111"/>
<path d="M669.3 110.59V115.99M667.5 110.59h3.6M667.5 115.99h3.6" stroke="#111" stroke-width="1.1" fill="none"/>
<rect x="667.86" y="111.84" width="2.89" height="2.89" fill="#111"/>
<path d="M502.84,141.43 508.58,141.43 514.32,141.43 520.06,141.43 525.80,141.43 554.50,141.19 583.20,142.00 611.90,143.18 640.60,142.00 669.30,141.19" stroke="#62c27a" stroke-width="1.2" fill="none"/>
<path d="M502.84 138.2V144.65M501.04 138.2h3.6M501.04 144.65h3.6" stroke="#62c27a" stroke-width="1.1" fill="none"/>
<path d="M502.84 143.5L504.82 140.08H500.86Z" fill="#62c27a"/>
<path d="M508.58 138.11V144.75M506.78 138.11h3.6M506.78 144.75h3.6" stroke="#62c27a" stroke-width="1.1" fill="none"/>
<path d="M508.58 143.5L510.56 140.08H506.6Z" fill="#62c27a"/>
<path d="M514.32 137.87V144.99M512.52 137.87h3.6M512.52 144.99h3.6" stroke="#62c27a" stroke-width="1.1" fill="none"/>
<path d="M514.32 143.5L516.3 140.08H512.34Z" fill="#62c27a"/>
<path d="M520.06 138.11V144.75M518.26 138.11h3.6M518.26 144.75h3.6" stroke="#62c27a" stroke-width="1.1" fill="none"/>
<path d="M520.06 143.5L522.04 140.08H518.08Z" fill="#62c27a"/>
<path d="M525.8 138.58V144.27M524 138.58h3.6M524 144.27h3.6" stroke="#62c27a" stroke-width="1.1" fill="none"/>
<path d="M525.8 143.5L527.78 140.08H523.82Z" fill="#62c27a"/>
<path d="M554.5 139.2V143.18M552.7 139.2h3.6M552.7 143.18h3.6" stroke="#62c27a" stroke-width="1.1" fill="none"/>
<path d="M554.5 143.26L556.48 139.84H552.52Z" fill="#62c27a"/>
<path d="M583.2 138.68V145.32M581.4 138.68h3.6M581.4 145.32h3.6" stroke="#62c27a" stroke-width="1.1" fill="none"/>
<path d="M583.2 144.07L585.18 140.65H581.22Z" fill="#62c27a"/>
<path d="M611.9 139.2V147.17M610.1 139.2h3.6M610.1 147.17h3.6" stroke="#62c27a" stroke-width="1.1" fill="none"/>
<path d="M611.9 145.25L613.88 141.83H609.92Z" fill="#62c27a"/>
<path d="M640.6 139.62V144.37M638.8 139.62h3.6M638.8 144.37h3.6" stroke="#62c27a" stroke-width="1.1" fill="none"/>
<path d="M640.6 144.07L642.58 140.65H638.62Z" fill="#62c27a"/>
<path d="M669.3 137.3V145.08M667.5 137.3h3.6M667.5 145.08h3.6" stroke="#62c27a" stroke-width="1.1" fill="none"/>
<path d="M669.3 143.26L671.28 139.84H667.32Z" fill="#62c27a"/>
<text x="501.6" y="13.6" font-size="7.3" text-anchor="start">Hg<tspan font-size="5.3" dy="-2.4">2+</tspan></text>
<text x="500.8" y="74.8" font-size="7.3" text-anchor="start">Pb<tspan font-size="5.3" dy="-2.4">2+</tspan></text>
<text x="499.4" y="104.5" font-size="7.3" text-anchor="start">Cd<tspan font-size="5.3" dy="-2.4">2+</tspan></text>
<text x="502" y="134.1" font-size="7.3" text-anchor="start">Zn<tspan font-size="5.3" dy="-2.4">2+</tspan></text>
<rect x="26.4" y="191.6" width="190" height="152.7" fill="none" stroke="#000" stroke-width="1.3"/>
<path d="M26.44 344.3v-2.5M52.33 344.3v-2.5M78.22 344.3v-2.5M104.11 344.3v-2.5M130 344.3v-2.5M155.89 344.3v-2.5M181.78 344.3v-2.5M207.67 344.3v-2.5M39.39 344.3v-1.4M65.28 344.3v-1.4M91.16 344.3v-1.4M117.06 344.3v-1.4M142.94 344.3v-1.4M168.84 344.3v-1.4M194.72 344.3v-1.4M26.4 338.6h2.5M26.4 323.9h2.5M26.4 309.2h2.5M26.4 294.5h2.5M26.4 279.8h2.5M26.4 265.1h2.5M26.4 250.4h2.5M26.4 235.7h2.5M26.4 221h2.5M26.4 206.3h2.5M26.4 191.6h2.5M26.4 331.25h1.4M26.4 316.55h1.4M26.4 301.85h1.4M26.4 287.15h1.4M26.4 272.45h1.4M26.4 257.75h1.4M26.4 243.05h1.4M26.4 228.35h1.4M26.4 213.65h1.4M26.4 198.95h1.4" stroke="#000" stroke-width="1.1" fill="none"/>
<text x="26.44" y="354.3" font-size="7.8" text-anchor="middle">-1.2</text>
<text x="52.33" y="354.3" font-size="7.8" text-anchor="middle">-0.9</text>
<text x="78.22" y="354.3" font-size="7.8" text-anchor="middle">-0.6</text>
<text x="104.11" y="354.3" font-size="7.8" text-anchor="middle">-0.3</text>
<text x="130" y="354.3" font-size="7.8" text-anchor="middle">0.0</text>
<text x="155.89" y="354.3" font-size="7.8" text-anchor="middle">0.3</text>
<text x="181.78" y="354.3" font-size="7.8" text-anchor="middle">0.6</text>
<text x="207.67" y="354.3" font-size="7.8" text-anchor="middle">0.9</text>
<text x="23" y="341.3" font-size="7.8" text-anchor="end">0</text>
<text x="23" y="326.6" font-size="7.8" text-anchor="end">5</text>
<text x="23" y="311.9" font-size="7.8" text-anchor="end">10</text>
<text x="23" y="297.2" font-size="7.8" text-anchor="end">15</text>
<text x="23" y="282.5" font-size="7.8" text-anchor="end">20</text>
<text x="23" y="267.8" font-size="7.8" text-anchor="end">25</text>
<text x="23" y="253.1" font-size="7.8" text-anchor="end">30</text>
<text x="23" y="238.4" font-size="7.8" text-anchor="end">35</text>
<text x="23" y="223.7" font-size="7.8" text-anchor="end">40</text>
<text x="23" y="209" font-size="7.8" text-anchor="end">45</text>
<text x="23" y="194.3" font-size="7.8" text-anchor="end">50</text>
<text x="121.5" y="367.1" font-size="10" text-anchor="middle">Potential (V)</text>
<text transform="translate(10.6 267.2) rotate(-90)" x="0" y="0" font-size="10.3" text-anchor="middle">Current (μA)</text>
<text x="0.5" y="202" font-size="17" text-anchor="start">d</text>
<path d="M26.7,338.1 32.0,337.7 35.0,337.1 36.7,336.0 38.0,334.1 39.0,331.1 40.0,326.3 43.0,303.4 43.7,299.5 44.2,298.5 44.5,298.7 45.0,301.0 47.2,324.0 48.5,331.9 49.2,334.0 49.7,334.7 50.2,335.0 51.2,334.7 52.5,333.1 53.7,330.3 55.2,325.6 56.7,319.5 58.0,313.4 59.5,303.4 62.2,278.8 62.7,276.2 63.0,275.5 63.2,275.4 63.7,277.3 64.2,283.1 65.7,310.8 66.7,324.7 67.2,329.1 68.0,333.1 68.7,335.2 69.5,336.2 70.5,337.0 71.9,337.5 77.2,338.1 89.7,338.3 107.7,338.2 115.9,337.9 120.7,337.5 123.1,336.7 124.1,336.1 125.1,335.1 126.4,333.3 127.4,331.3 129.4,325.5 130.9,318.4 131.9,309.9 132.6,299.9 133.4,285.9 135.9,220.5 136.4,211.8 136.9,208.4 137.1,209.8 137.4,216.9 138.6,288.3 139.4,317.2 140.1,329.6 140.6,332.8 141.4,335.0 142.1,336.0 143.4,336.9 144.9,337.5 146.9,337.9 150.6,338.2 154.9,338.3 157.6,338.1 159.9,337.7 161.9,336.9 163.9,335.6 166.1,333.3 171.3,326.9 173.1,325.6 174.6,325.3 176.1,325.8 177.6,327.0 182.8,333.4 184.8,335.5 186.8,336.9 188.8,337.8 191.3,338.3 194.6,338.5 216.1,338.6" stroke="#222" stroke-width="1.35" fill="none" stroke-linejoin="round"/>
<path d="M26.7,338.1 32.0,337.7 35.0,337.1 36.7,336.1 38.0,334.3 39.0,331.4 40.0,326.7 43.0,304.5 43.7,300.7 44.2,299.8 44.5,299.9 45.0,302.1 47.2,324.5 48.5,332.1 49.2,334.2 49.7,334.9 50.2,335.2 51.2,335.0 52.5,333.6 53.7,331.2 55.2,326.9 56.7,321.5 58.0,316.0 59.5,307.1 62.2,285.1 62.7,282.7 63.0,282.2 63.2,282.1 63.7,283.7 64.2,289.0 65.7,313.7 66.7,326.2 67.2,330.1 68.0,333.7 68.7,335.5 69.5,336.5 70.5,337.1 71.9,337.6 76.9,338.1 88.7,338.4 106.7,338.3 115.7,338.0 120.7,337.6 123.1,337.0 125.1,335.7 126.4,334.1 127.4,332.5 129.4,327.6 130.9,321.7 131.9,314.6 132.6,306.2 133.4,294.4 135.9,239.6 136.4,232.3 136.9,229.4 137.1,230.6 137.4,236.5 138.6,296.4 139.4,320.7 140.1,331.0 140.6,333.8 141.4,335.5 142.1,336.4 143.4,337.2 144.9,337.6 147.1,338.0 155.1,338.3 157.9,338.2 160.1,337.7 162.4,336.8 164.6,335.2 166.6,333.2 170.4,328.8 171.8,327.4 173.3,326.5 174.6,326.4 176.1,326.8 177.6,327.9 182.8,333.9 184.8,335.7 186.8,337.0 188.8,337.8 191.3,338.3 194.6,338.5 216.1,338.6" stroke="#e03a3a" stroke-width="1.35" fill="none" stroke-linejoin="round"/>
<path d="M26.7,338.3 32.0,338.0 35.0,337.5 36.7,336.8 38.0,335.4 39.0,333.3 40.0,329.9 43.0,313.6 43.7,310.9 44.2,310.2 44.5,310.3 45.0,311.9 47.2,328.3 48.5,333.9 49.2,335.5 50.2,336.3 51.2,336.2 52.5,335.3 53.7,333.8 55.0,331.6 57.7,325.0 59.5,318.6 62.2,304.5 62.7,303.1 63.2,302.6 63.7,303.7 64.2,307.0 65.7,322.8 66.7,330.7 67.2,333.2 68.0,335.5 68.7,336.6 69.5,337.2 70.5,337.7 71.9,338.0 77.4,338.3 108.9,338.3 120.9,337.9 123.4,337.3 125.1,336.4 126.4,335.3 127.4,334.1 129.4,330.5 130.9,326.1 131.9,320.8 132.6,314.6 133.4,305.9 135.9,265.4 136.4,260.0 136.9,257.9 137.1,258.8 137.4,263.2 138.6,307.5 139.4,325.4 140.1,333.0 140.6,335.0 141.4,336.3 142.1,337.0 143.4,337.5 147.1,338.2 155.4,338.4 158.1,338.2 160.1,337.9 162.4,337.1 164.6,335.8 166.6,334.1 170.4,330.3 171.8,329.2 173.3,328.4 174.6,328.3 176.1,328.6 177.6,329.6 182.8,334.6 184.8,336.2 186.8,337.3 188.8,338.0 191.3,338.4 194.6,338.5 216.1,338.6" stroke="#3a66cc" stroke-width="1.35" fill="none" stroke-linejoin="round"/>
<path d="M26.7,338.3 32.0,338.0 35.0,337.6 36.7,337.0 38.0,335.7 39.0,333.8 40.0,330.7 43.0,315.8 43.7,313.2 44.2,312.6 44.5,312.7 45.0,314.2 47.2,329.2 48.5,334.4 49.2,335.8 50.0,336.5 51.2,336.6 52.5,336.0 53.7,334.8 55.0,333.1 57.7,328.0 59.5,323.1 62.2,312.2 62.7,311.1 63.2,310.7 63.7,311.6 64.2,314.1 65.7,326.3 66.7,332.5 67.2,334.4 68.0,336.2 68.7,337.1 69.5,337.5 71.9,338.1 77.4,338.4 108.4,338.4 120.9,338.0 123.4,337.6 125.1,336.9 127.4,335.1 129.4,332.4 130.9,329.1 131.9,325.1 132.6,320.4 133.4,313.7 135.9,282.9 136.4,278.8 136.9,277.2 137.1,277.9 137.4,281.2 138.6,314.9 139.4,328.5 140.1,334.3 140.6,335.9 141.4,336.9 142.1,337.4 143.4,337.8 147.4,338.3 155.4,338.4 160.1,338.0 162.4,337.4 164.6,336.3 171.8,331.1 173.3,330.5 174.6,330.3 176.1,330.6 177.6,331.4 182.8,335.4 184.8,336.7 186.8,337.5 188.8,338.1 191.3,338.4 194.6,338.6 216.1,338.6" stroke="#3cb060" stroke-width="1.35" fill="none" stroke-linejoin="round"/>
<path d="M26.7,338.4 35.0,338.0 36.7,337.6 38.0,336.9 39.0,335.8 40.0,333.9 43.0,325.1 43.7,323.6 44.2,323.2 44.5,323.3 45.0,324.2 47.2,333.1 48.5,336.1 49.2,337.0 50.0,337.4 51.2,337.4 52.5,337.1 53.7,336.4 55.0,335.4 57.7,332.3 59.5,329.4 62.2,322.9 62.7,322.2 63.2,322.1 63.7,322.5 64.2,324.1 65.7,331.3 66.7,335.0 67.2,336.1 68.0,337.1 69.5,338.0 71.9,338.3 77.4,338.5 108.4,338.5 120.9,338.3 123.4,338.0 125.1,337.6 127.4,336.6 129.4,335.0 130.9,333.0 131.9,330.6 132.6,327.8 133.4,323.9 135.9,305.7 136.4,303.3 136.9,302.3 137.1,302.7 137.4,304.7 138.6,324.6 139.4,332.6 140.1,336.1 140.6,337.0 141.4,337.6 143.6,338.2 147.9,338.4 155.9,338.5 160.4,338.1 162.6,337.6 164.9,336.8 171.8,332.9 173.3,332.5 174.6,332.4 176.1,332.6 177.6,333.2 182.8,336.2 184.8,337.2 186.8,337.8 188.8,338.2 194.6,338.6 216.1,338.6" stroke="#9a5ae0" stroke-width="1.35" fill="none" stroke-linejoin="round"/>
<path d="M26.7,338.5 35.0,338.2 36.7,338.0 38.0,337.5 39.0,336.8 40.0,335.6 43.0,330.0 43.7,329.1 44.2,328.8 44.7,329.1 45.2,329.9 47.0,334.5 48.0,336.4 49.0,337.5 50.2,337.9 51.7,337.9 53.5,337.5 57.0,335.8 59.2,334.0 62.2,330.3 63.2,329.9 63.7,330.1 64.2,330.9 65.7,334.8 66.7,336.7 68.0,337.8 69.5,338.3 77.4,338.5 108.7,338.5 120.9,338.4 125.1,338.1 127.4,337.5 129.4,336.6 130.9,335.6 131.9,334.3 133.4,330.7 135.9,320.8 136.4,319.5 136.9,319.0 137.1,319.2 137.4,320.3 138.6,331.0 139.4,335.4 140.1,337.2 140.6,337.7 141.4,338.1 143.6,338.4 147.9,338.5 155.9,338.5 160.4,338.4 164.9,337.6 171.8,335.6 174.6,335.4 177.6,335.8 184.8,337.8 188.8,338.4 194.6,338.6 216.1,338.6" stroke="#d09a20" stroke-width="1.35" fill="none" stroke-linejoin="round"/>
<path d="M26.7,338.6 35.0,338.5 38.0,338.2 40.0,337.6 43.0,335.7 44.2,335.3 45.2,335.7 48.0,337.9 50.2,338.4 53.5,338.2 57.0,337.7 59.2,337.1 62.2,335.8 63.2,335.7 64.2,336.0 66.0,337.5 67.0,338.1 69.7,338.5 112.7,338.6 125.1,338.3 129.4,337.6 130.9,337.1 131.9,336.4 133.4,334.6 135.9,329.7 136.4,329.1 136.9,328.8 137.1,328.9 137.4,329.4 138.6,334.8 139.4,337.0 140.1,337.9 141.4,338.3 148.6,338.6 160.4,338.4 164.9,338.0 171.8,336.7 174.6,336.5 177.6,336.8 184.8,338.1 188.8,338.5 216.1,338.6" stroke="#6b2f3f" stroke-width="1.35" fill="none" stroke-linejoin="round"/>
<path d="M26.7,338.5 35.0,338.4 38.0,338.0 40.0,336.9 43.0,333.7 44.2,333.0 44.7,333.1 45.2,333.6 47.0,336.3 48.0,337.4 49.0,337.9 50.2,338.2 53.5,337.9 57.0,336.8 59.2,335.7 62.2,333.4 63.2,333.1 63.7,333.2 64.2,333.8 65.7,336.2 66.7,337.4 68.0,338.1 69.5,338.4 100.4,338.6 125.1,338.4 129.4,337.7 130.9,337.3 131.9,336.7 133.4,335.1 135.9,330.8 136.4,330.2 136.9,330.0 137.1,330.1 137.4,330.5 138.6,335.3 139.4,337.2 140.1,338.0 141.4,338.4 150.9,338.6 160.6,338.4 164.9,337.9 171.8,336.4 174.6,336.2 177.6,336.5 184.8,338.1 188.8,338.5 216.1,338.6" stroke="#50d0c8" stroke-width="1.35" fill="none" stroke-linejoin="round"/>
<path d="M26.7,338.6 38.0,338.3 40.0,337.9 43.0,336.5 44.2,336.2 45.2,336.5 48.0,338.1 50.5,338.5 57.0,338.1 63.2,337.1 64.2,337.3 67.0,338.3 69.7,338.5 125.1,338.5 129.4,338.1 131.9,337.5 133.4,336.6 135.9,334.2 136.9,333.7 137.4,334.0 138.6,336.7 139.4,337.8 140.1,338.3 141.4,338.5 160.4,338.5 174.6,337.7 188.8,338.5 216.1,338.6" stroke="#9a9a30" stroke-width="1.35" fill="none" stroke-linejoin="round"/>
<path d="M26.7,338.6 38.0,338.5 44.2,337.7 48.5,338.4 52.2,338.4 57.7,337.7 62.2,336.3 63.2,336.1 64.2,336.4 66.7,338.1 68.0,338.4 69.5,338.5 125.1,338.5 129.4,338.3 131.9,338.0 133.4,337.4 135.9,336.0 136.9,335.7 137.4,335.9 138.6,337.5 139.4,338.1 140.1,338.4 141.4,338.5 160.4,338.6 174.6,338.0 188.8,338.6 216.1,338.6" stroke="#e06020" stroke-width="1.35" fill="none" stroke-linejoin="round"/>
<path d="M26.7,338.6 216.1,338.6" stroke="#80aee0" stroke-width="1.35" fill="none" stroke-linejoin="round"/>
<text x="37.7" y="295.6" font-size="8" text-anchor="start">Cd<tspan font-size="5.44" dy="-2.88">2+</tspan></text>
<text x="59.5" y="271.8" font-size="8" text-anchor="start">Pb<tspan font-size="5.44" dy="-2.88">2+</tspan></text>
<text x="130.8" y="204.5" font-size="7.5" text-anchor="start">Hg<tspan font-size="5.1" dy="-2.7">2+</tspan></text>
<text x="169.2" y="320.9" font-size="8" text-anchor="start">Zn<tspan font-size="5.44" dy="-2.88">2+</tspan></text>
<text x="84.1" y="266.7" font-size="8" text-anchor="start">10 μg/L</text>
<text x="83.1" y="323.8" font-size="8" text-anchor="start">0.05 μg/L</text>
<path d="M93.6 314.7V278" stroke="#000" stroke-width="1.2"/><path d="M93.6 272.2L96.1 280.2H91.1Z" fill="#000"/>
<rect x="263.9" y="190.6" width="190.6" height="152.8" fill="none" stroke="#000" stroke-width="1.3"/>
<path d="M279.2 343.4v-2.5M311.04 343.4v-2.5M342.88 343.4v-2.5M374.72 343.4v-2.5M406.56 343.4v-2.5M438.4 343.4v-2.5M295.12 343.4v-1.4M326.96 343.4v-1.4M358.8 343.4v-1.4M390.64 343.4v-1.4M422.48 343.4v-1.4M263.9 331.2h2.5M263.9 305.7h2.5M263.9 280.2h2.5M263.9 254.7h2.5M263.9 229.2h2.5M263.9 203.7h2.5M263.9 343.95h1.4M263.9 318.45h1.4M263.9 292.95h1.4M263.9 267.45h1.4M263.9 241.95h1.4M263.9 216.45h1.4M263.9 190.95h1.4" stroke="#000" stroke-width="1.1" fill="none"/>
<text x="279.2" y="354.6" font-size="9.4" text-anchor="middle">0</text>
<text x="311.04" y="354.6" font-size="9.4" text-anchor="middle">2</text>
<text x="342.88" y="354.6" font-size="9.4" text-anchor="middle">4</text>
<text x="374.72" y="354.6" font-size="9.4" text-anchor="middle">6</text>
<text x="406.56" y="354.6" font-size="9.4" text-anchor="middle">8</text>
<text x="438.4" y="354.6" font-size="9.4" text-anchor="middle">10</text>
<text x="260.6" y="334.4" font-size="9.4" text-anchor="end">0</text>
<text x="260.6" y="308.9" font-size="9.4" text-anchor="end">10</text>
<text x="260.6" y="283.4" font-size="9.4" text-anchor="end">20</text>
<text x="260.6" y="257.9" font-size="9.4" text-anchor="end">30</text>
<text x="260.6" y="232.4" font-size="9.4" text-anchor="end">40</text>
<text x="260.6" y="206.9" font-size="9.4" text-anchor="end">50</text>
<text x="359.2" y="367" font-size="13" text-anchor="middle">HMIs Concentration (μg/L)</text>
<text transform="translate(244.2 262.5) rotate(-90)" x="0" y="0" font-size="12" text-anchor="middle">Current (μA)</text>
<text x="237.2" y="202.2" font-size="17" text-anchor="start">e</text>
<path d="M279.2 330.18L438.4 318.45" stroke="#3a8a3a" stroke-width="1.35"/>
<path d="M280 330.94V332.99M278 330.94h4M278 332.99h4" stroke="#3a8a3a" stroke-width="1.1" fill="none"/>
<path d="M280 333.92L281.87 330.69H278.13Z" fill="#3a8a3a"/>
<path d="M282.38 330.69V332.73M280.38 330.69h4M280.38 332.73h4" stroke="#3a8a3a" stroke-width="1.1" fill="none"/>
<path d="M282.38 333.66L284.25 330.44H280.51Z" fill="#3a8a3a"/>
<path d="M287.16 329.67V331.71M285.16 329.67h4M285.16 331.71h4" stroke="#3a8a3a" stroke-width="1.1" fill="none"/>
<path d="M287.16 332.64L289.03 329.42H285.29Z" fill="#3a8a3a"/>
<path d="M295.12 327.63V329.67M293.12 327.63h4M293.12 329.67h4" stroke="#3a8a3a" stroke-width="1.1" fill="none"/>
<path d="M295.12 330.6L296.99 327.38H293.25Z" fill="#3a8a3a"/>
<path d="M326.96 326.35V327.88M324.96 326.35h4M324.96 327.88h4" stroke="#3a8a3a" stroke-width="1.1" fill="none"/>
<path d="M326.96 329.07L328.83 325.85H325.09Z" fill="#3a8a3a"/>
<path d="M358.8 323.3V324.82M356.8 323.3h4M356.8 324.82h4" stroke="#3a8a3a" stroke-width="1.1" fill="none"/>
<path d="M358.8 326.01L360.67 322.79H356.93Z" fill="#3a8a3a"/>
<path d="M398.6 320.75V322.27M396.6 320.75h4M396.6 322.27h4" stroke="#3a8a3a" stroke-width="1.1" fill="none"/>
<path d="M398.6 323.46L400.47 320.24H396.73Z" fill="#3a8a3a"/>
<path d="M438.4 317.69V319.21M436.4 317.69h4M436.4 319.21h4" stroke="#3a8a3a" stroke-width="1.1" fill="none"/>
<path d="M438.4 320.4L440.27 317.18H436.53Z" fill="#3a8a3a"/>
<path d="M279.2 328.9L438.4 292.19" stroke="#000" stroke-width="1.35"/>
<path d="M280 327.63V330.18M278 327.63h4M278 330.18h4" stroke="#000" stroke-width="1.1" fill="none"/>
<rect x="278.55" y="327.46" width="2.89" height="2.89" fill="#000"/>
<path d="M282.38 326.35V329.41M280.38 326.35h4M280.38 329.41h4" stroke="#000" stroke-width="1.1" fill="none"/>
<rect x="280.94" y="326.44" width="2.89" height="2.89" fill="#000"/>
<path d="M287.16 324.31V327.88M285.16 324.31h4M285.16 327.88h4" stroke="#000" stroke-width="1.1" fill="none"/>
<rect x="285.71" y="324.65" width="2.89" height="2.89" fill="#000"/>
<path d="M295.12 317.94V326.1M293.12 317.94h4M293.12 326.1h4" stroke="#000" stroke-width="1.1" fill="none"/>
<rect x="293.68" y="320.57" width="2.89" height="2.89" fill="#000"/>
<path d="M326.96 313.86V322.02M324.96 313.86h4M324.96 322.02h4" stroke="#000" stroke-width="1.1" fill="none"/>
<rect x="325.51" y="316.5" width="2.89" height="2.89" fill="#000"/>
<path d="M358.8 306.97V312.07M356.8 306.97h4M356.8 312.07h4" stroke="#000" stroke-width="1.1" fill="none"/>
<rect x="357.35" y="308.08" width="2.89" height="2.89" fill="#000"/>
<path d="M398.6 299.07V305.19M396.6 299.07h4M396.6 305.19h4" stroke="#000" stroke-width="1.1" fill="none"/>
<rect x="397.16" y="300.69" width="2.89" height="2.89" fill="#000"/>
<path d="M438.4 288.62V294.74M436.4 288.62h4M436.4 294.74h4" stroke="#000" stroke-width="1.1" fill="none"/>
<rect x="436.95" y="290.23" width="2.89" height="2.89" fill="#000"/>
<path d="M279.2 322.02L438.4 261.07" stroke="#e8403a" stroke-width="1.35"/>
<path d="M280 321.25V323.81M278 321.25h4M278 323.81h4" stroke="#e8403a" stroke-width="1.1" fill="none"/>
<circle cx="280" cy="322.53" r="1.7" fill="#e8403a"/>
<path d="M282.38 320.24V322.78M280.38 320.24h4M280.38 322.78h4" stroke="#e8403a" stroke-width="1.1" fill="none"/>
<circle cx="282.38" cy="321.51" r="1.7" fill="#e8403a"/>
<path d="M287.16 314.88V318.96M285.16 314.88h4M285.16 318.96h4" stroke="#e8403a" stroke-width="1.1" fill="none"/>
<circle cx="287.16" cy="316.92" r="1.7" fill="#e8403a"/>
<path d="M295.12 313.35V316.92M293.12 313.35h4M293.12 316.92h4" stroke="#e8403a" stroke-width="1.1" fill="none"/>
<circle cx="295.12" cy="315.13" r="1.7" fill="#e8403a"/>
<path d="M326.96 304.94V310.03M324.96 304.94h4M324.96 310.03h4" stroke="#e8403a" stroke-width="1.1" fill="none"/>
<circle cx="326.96" cy="307.49" r="1.7" fill="#e8403a"/>
<path d="M358.8 289.89V296.52M356.8 289.89h4M356.8 296.52h4" stroke="#e8403a" stroke-width="1.1" fill="none"/>
<circle cx="358.8" cy="293.2" r="1.7" fill="#e8403a"/>
<path d="M398.6 276.12V284.79M396.6 276.12h4M396.6 284.79h4" stroke="#e8403a" stroke-width="1.1" fill="none"/>
<circle cx="398.6" cy="280.45" r="1.7" fill="#e8403a"/>
<path d="M438.4 255.21V271.53M436.4 255.21h4M436.4 271.53h4" stroke="#e8403a" stroke-width="1.1" fill="none"/>
<circle cx="438.4" cy="263.37" r="1.7" fill="#e8403a"/>
<path d="M279.2 323.04L438.4 204.72" stroke="#3a56c0" stroke-width="1.35"/>
<path d="M280 322.78V326.87M278 322.78h4M278 326.87h4" stroke="#3a56c0" stroke-width="1.1" fill="none"/>
<path d="M280 322.87L281.87 326.1H278.13Z" fill="#3a56c0"/>
<path d="M282.38 317.94V325.08M280.38 317.94h4M280.38 325.08h4" stroke="#3a56c0" stroke-width="1.1" fill="none"/>
<path d="M282.38 319.56L284.25 322.78H280.51Z" fill="#3a56c0"/>
<path d="M287.16 311.06V319.72M285.16 311.06h4M285.16 319.72h4" stroke="#3a56c0" stroke-width="1.1" fill="none"/>
<path d="M287.16 313.44L289.03 316.66H285.29Z" fill="#3a56c0"/>
<path d="M295.12 294.48V313.35M293.12 294.48h4M293.12 313.35h4" stroke="#3a56c0" stroke-width="1.1" fill="none"/>
<path d="M295.12 301.96L296.99 305.19H293.25Z" fill="#3a56c0"/>
<path d="M326.96 283.26V293.46M324.96 283.26h4M324.96 293.46h4" stroke="#3a56c0" stroke-width="1.1" fill="none"/>
<path d="M326.96 286.41L328.83 289.63H325.09Z" fill="#3a56c0"/>
<path d="M358.8 253.94V265.66M356.8 253.94h4M356.8 265.66h4" stroke="#3a56c0" stroke-width="1.1" fill="none"/>
<path d="M358.8 257.85L360.67 261.07H356.93Z" fill="#3a56c0"/>
<path d="M398.6 230.73V237.87M396.6 230.73h4M396.6 237.87h4" stroke="#3a56c0" stroke-width="1.1" fill="none"/>
<path d="M398.6 232.34L400.47 235.58H396.73Z" fill="#3a56c0"/>
<path d="M438.4 197.71V211.73M436.4 197.71h4M436.4 211.73h4" stroke="#3a56c0" stroke-width="1.1" fill="none"/>
<path d="M438.4 202.76L440.27 206H436.53Z" fill="#3a56c0"/>
<rect x="276.95" y="201.56" width="2.89" height="2.89" fill="#000"/>
<text x="291" y="206.2" font-size="9" text-anchor="start">Cd<tspan font-size="7.0" dy="-3.7">2+</tspan></text>
<circle cx="278.4" cy="216.6" r="1.7" fill="#e8403a"/>
<text x="291" y="219.5" font-size="9" text-anchor="start">Pb<tspan font-size="7.0" dy="-3.7">2+</tspan></text>
<path d="M278.4 228.44L280.27 231.68H276.53Z" fill="#3a56c0"/>
<text x="291" y="232.6" font-size="9" text-anchor="start">Hg<tspan font-size="7.0" dy="-3.7">2+</tspan></text>
<path d="M278.4 246.06L280.27 242.82H276.53Z" fill="#3a8a3a"/>
<text x="291" y="246.2" font-size="9" text-anchor="start">Zn<tspan font-size="7.0" dy="-3.7">2+</tspan></text>
<rect x="491.5" y="192.5" width="189.9" height="152.9" fill="none" stroke="#000" stroke-width="1.3"/>
<path d="M507.3 345.4v-2.5M539 345.4v-2.5M570.7 345.4v-2.5M602.4 345.4v-2.5M634.1 345.4v-2.5M665.8 345.4v-2.5M491.5 345.7h2.5M491.5 322.1h2.5M491.5 298.5h2.5M491.5 274.9h2.5M491.5 251.3h2.5M491.5 227.7h2.5M491.5 204.1h2.5M491.5 333.9h1.4M491.5 310.3h1.4M491.5 286.7h1.4M491.5 263.1h1.4M491.5 239.5h1.4M491.5 215.9h1.4M491.5 192.3h1.4" stroke="#000" stroke-width="1.1" fill="none"/>
<text x="507.3" y="354.8" font-size="8.1" text-anchor="middle">1</text>
<text x="539" y="354.8" font-size="8.1" text-anchor="middle">2</text>
<text x="570.7" y="354.8" font-size="8.1" text-anchor="middle">3</text>
<text x="602.4" y="354.8" font-size="8.1" text-anchor="middle">4</text>
<text x="634.1" y="354.8" font-size="8.1" text-anchor="middle">5</text>
<text x="665.8" y="354.8" font-size="8.1" text-anchor="middle">6</text>
<text x="488.2" y="348.5" font-size="8.1" text-anchor="end">0</text>
<text x="488.2" y="324.9" font-size="8.1" text-anchor="end">5</text>
<text x="488.2" y="301.3" font-size="8.1" text-anchor="end">10</text>
<text x="488.2" y="277.7" font-size="8.1" text-anchor="end">15</text>
<text x="488.2" y="254.1" font-size="8.1" text-anchor="end">20</text>
<text x="488.2" y="230.5" font-size="8.1" text-anchor="end">25</text>
<text x="488.2" y="206.9" font-size="8.1" text-anchor="end">30</text>
<text x="581.1" y="366.2" font-size="10" text-anchor="middle">Different eletrode</text>
<text transform="translate(474.8 268) rotate(-90)" x="0" y="0" font-size="10.3" text-anchor="middle">Current (μA)</text>
<text x="474" y="202" font-size="17" text-anchor="start">f</text>
<path d="M507.30,214.01 539.00,212.12 570.70,214.96 602.40,213.07 634.10,213.54 665.80,217.32" stroke="#4a78c8" stroke-width="1.2" fill="none"/>
<path d="M507.3 206.13V221.89M505.5 206.13h3.6M505.5 221.89h3.6" stroke="#4a78c8" stroke-width="1.1" fill="none"/>
<circle cx="507.3" cy="214.01" r="1.6" fill="#4a78c8"/>
<path d="M539 202.68V221.56M537.2 202.68h3.6M537.2 221.56h3.6" stroke="#4a78c8" stroke-width="1.1" fill="none"/>
<circle cx="539" cy="212.12" r="1.6" fill="#4a78c8"/>
<path d="M570.7 209.76V220.15M568.9 209.76h3.6M568.9 220.15h3.6" stroke="#4a78c8" stroke-width="1.1" fill="none"/>
<circle cx="570.7" cy="214.96" r="1.6" fill="#4a78c8"/>
<path d="M602.4 207.88V218.26M600.6 207.88h3.6M600.6 218.26h3.6" stroke="#4a78c8" stroke-width="1.1" fill="none"/>
<circle cx="602.4" cy="213.07" r="1.6" fill="#4a78c8"/>
<path d="M634.1 209.76V217.32M632.3 209.76h3.6M632.3 217.32h3.6" stroke="#4a78c8" stroke-width="1.1" fill="none"/>
<circle cx="634.1" cy="213.54" r="1.6" fill="#4a78c8"/>
<path d="M665.8 212.6V222.04M664 212.6h3.6M664 222.04h3.6" stroke="#4a78c8" stroke-width="1.1" fill="none"/>
<circle cx="665.8" cy="217.32" r="1.6" fill="#4a78c8"/>
<path d="M507.30,274.43 539.00,274.43 570.70,274.43 602.40,275.14 634.10,276.08 665.80,273.25" stroke="#e04a4f" stroke-width="1.2" fill="none"/>
<path d="M507.3 269V279.86M505.5 269h3.6M505.5 279.86h3.6" stroke="#e04a4f" stroke-width="1.1" fill="none"/>
<circle cx="507.3" cy="274.43" r="1.6" fill="#e04a4f"/>
<path d="M539 269.24V279.62M537.2 269.24h3.6M537.2 279.62h3.6" stroke="#e04a4f" stroke-width="1.1" fill="none"/>
<circle cx="539" cy="274.43" r="1.6" fill="#e04a4f"/>
<path d="M570.7 269.71V279.15M568.9 269.71h3.6M568.9 279.15h3.6" stroke="#e04a4f" stroke-width="1.1" fill="none"/>
<circle cx="570.7" cy="274.43" r="1.6" fill="#e04a4f"/>
<path d="M602.4 271.83V278.44M600.6 271.83h3.6M600.6 278.44h3.6" stroke="#e04a4f" stroke-width="1.1" fill="none"/>
<circle cx="602.4" cy="275.14" r="1.6" fill="#e04a4f"/>
<path d="M634.1 270.42V281.74M632.3 270.42h3.6M632.3 281.74h3.6" stroke="#e04a4f" stroke-width="1.1" fill="none"/>
<circle cx="634.1" cy="276.08" r="1.6" fill="#e04a4f"/>
<path d="M665.8 269.94V276.55M664 269.94h3.6M664 276.55h3.6" stroke="#e04a4f" stroke-width="1.1" fill="none"/>
<circle cx="665.8" cy="273.25" r="1.6" fill="#e04a4f"/>
<path d="M507.30,305.58 539.00,307.00 570.70,304.16 602.40,307.47 634.10,306.52 665.80,303.93" stroke="#111" stroke-width="1.2" fill="none"/>
<path d="M507.3 300.62V310.54M505.5 300.62h3.6M505.5 310.54h3.6" stroke="#111" stroke-width="1.1" fill="none"/>
<circle cx="507.3" cy="305.58" r="1.6" fill="#111"/>
<path d="M539 303.22V310.77M537.2 303.22h3.6M537.2 310.77h3.6" stroke="#111" stroke-width="1.1" fill="none"/>
<circle cx="539" cy="307" r="1.6" fill="#111"/>
<path d="M570.7 300.39V307.94M568.9 300.39h3.6M568.9 307.94h3.6" stroke="#111" stroke-width="1.1" fill="none"/>
<circle cx="570.7" cy="304.16" r="1.6" fill="#111"/>
<path d="M602.4 302.28V312.66M600.6 302.28h3.6M600.6 312.66h3.6" stroke="#111" stroke-width="1.1" fill="none"/>
<circle cx="602.4" cy="307.47" r="1.6" fill="#111"/>
<path d="M634.1 300.39V312.66M632.3 300.39h3.6M632.3 312.66h3.6" stroke="#111" stroke-width="1.1" fill="none"/>
<circle cx="634.1" cy="306.52" r="1.6" fill="#111"/>
<path d="M665.8 301.1V306.76M664 301.1h3.6M664 306.76h3.6" stroke="#111" stroke-width="1.1" fill="none"/>
<circle cx="665.8" cy="303.93" r="1.6" fill="#111"/>
<path d="M507.30,331.82 539.00,331.54 570.70,332.48 602.40,333.19 634.10,331.78 665.80,331.78" stroke="#62c27a" stroke-width="1.2" fill="none"/>
<path d="M507.3 328.24V335.41M505.5 328.24h3.6M505.5 335.41h3.6" stroke="#62c27a" stroke-width="1.1" fill="none"/>
<circle cx="507.3" cy="331.82" r="1.6" fill="#62c27a"/>
<path d="M539 327.43V335.65M537.2 327.43h3.6M537.2 335.65h3.6" stroke="#62c27a" stroke-width="1.1" fill="none"/>
<circle cx="539" cy="331.54" r="1.6" fill="#62c27a"/>
<path d="M570.7 329.37V335.6M568.9 329.37h3.6M568.9 335.6h3.6" stroke="#62c27a" stroke-width="1.1" fill="none"/>
<circle cx="570.7" cy="332.48" r="1.6" fill="#62c27a"/>
<path d="M602.4 329.42V336.97M600.6 329.42h3.6M600.6 336.97h3.6" stroke="#62c27a" stroke-width="1.1" fill="none"/>
<circle cx="602.4" cy="333.19" r="1.6" fill="#62c27a"/>
<path d="M634.1 329.65V333.9M632.3 329.65h3.6M632.3 333.9h3.6" stroke="#62c27a" stroke-width="1.1" fill="none"/>
<circle cx="634.1" cy="331.78" r="1.6" fill="#62c27a"/>
<path d="M665.8 327.53V336.02M664 327.53h3.6M664 336.02h3.6" stroke="#62c27a" stroke-width="1.1" fill="none"/>
<circle cx="665.8" cy="331.78" r="1.6" fill="#62c27a"/>
<text x="506" y="232" font-size="7.2" text-anchor="start">Hg<tspan font-size="5.9" dy="-3.0">2+</tspan></text>
<text x="506" y="261.8" font-size="7.2" text-anchor="start">Pb<tspan font-size="5.9" dy="-3.0">2+</tspan></text>
<text x="506" y="294.2" font-size="7.2" text-anchor="start">Cd<tspan font-size="5.9" dy="-3.0">2+</tspan></text>
<text x="506" y="322.9" font-size="7.2" text-anchor="start">Zn<tspan font-size="5.9" dy="-3.0">2+</tspan></text>
<text x="548.2" y="232" font-size="7" text-anchor="start">RSD = 0.9%</text>
<text x="548.2" y="261.8" font-size="7" text-anchor="start">RSD = 0.7%</text>
<text x="548.2" y="295.9" font-size="7" text-anchor="start">RSD = 0.5%</text>
<text x="548.2" y="324.5" font-size="7" text-anchor="start">RSD = 1.1%</text>
</svg>
</body></html>
